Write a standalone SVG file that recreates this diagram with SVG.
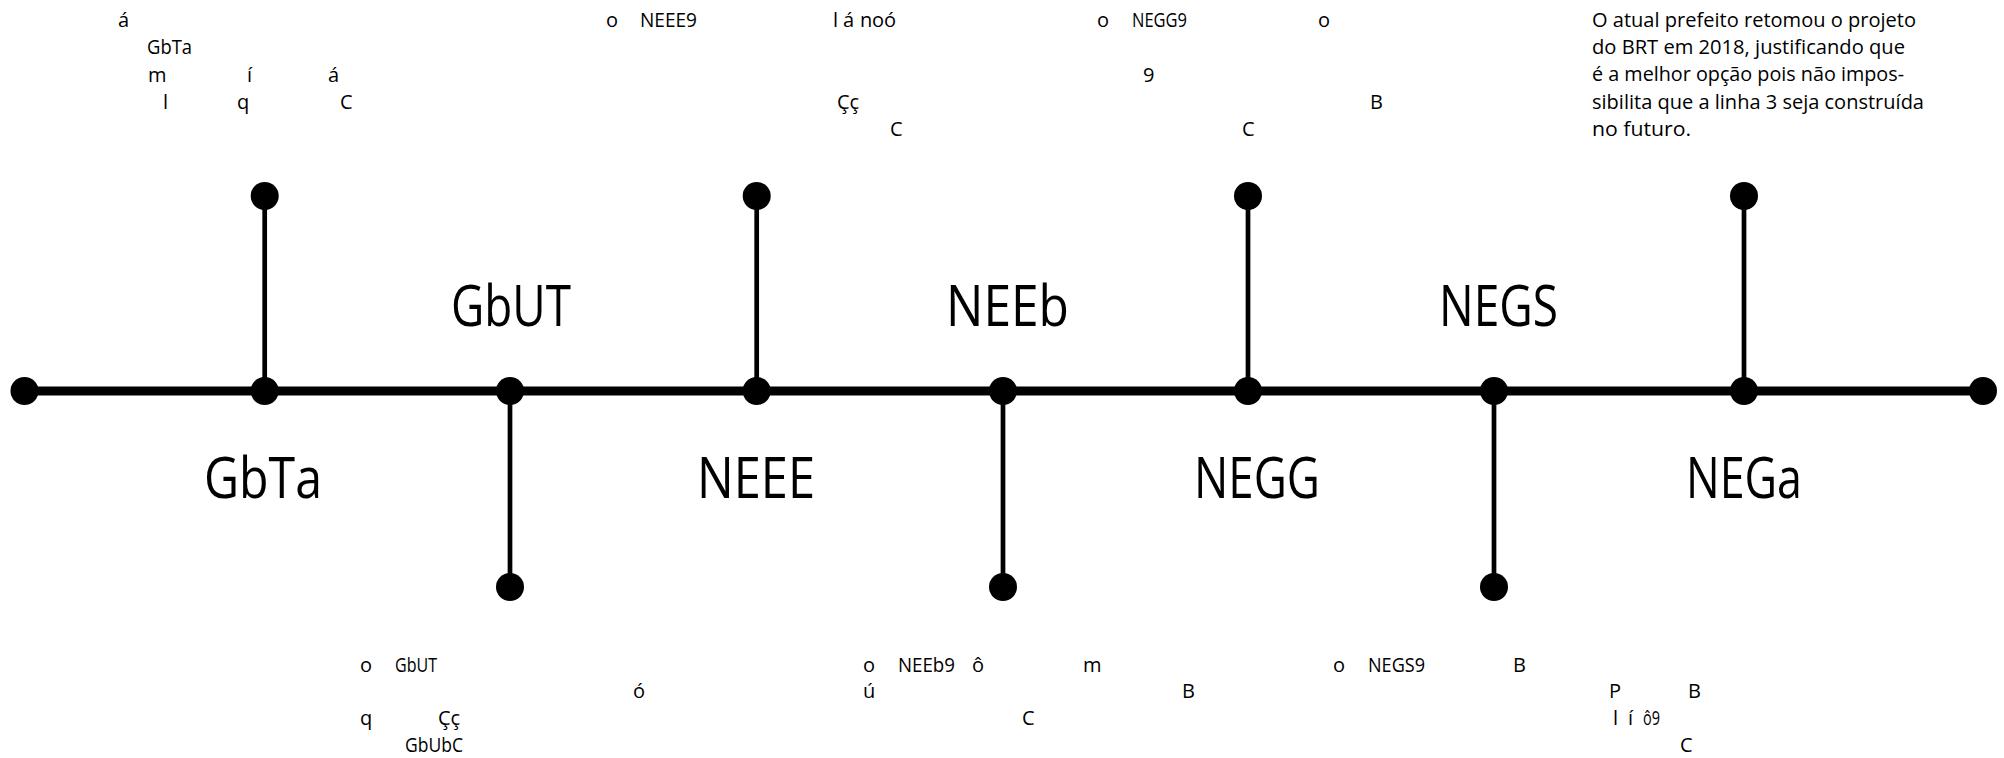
<svg xmlns="http://www.w3.org/2000/svg" width="2004" height="758" viewBox="0 0 2004 758">
<style>
.s{font-family:"Open Sans","Noto Sans",sans-serif;font-size:20px;fill:#000}
.b{font-family:"Open Sans","Noto Sans",sans-serif;font-size:57px;fill:#000}
.main{stroke:#000;stroke-width:9;fill:none}
.br{stroke:#000;stroke-width:4.7;fill:none}
.dot{fill:#000}
</style>
<rect width="2004" height="758" fill="#fff"/>
<g id="connectors">
<line class="main" x1="24.5" y1="391" x2="1983" y2="391"/>
<line class="br" x1="264.7" y1="391" x2="264.7" y2="196"/>
<line class="br" x1="510" y1="391" x2="510" y2="587"/>
<line class="br" x1="756.7" y1="391" x2="756.7" y2="196"/>
<line class="br" x1="1003" y1="391" x2="1003" y2="587"/>
<line class="br" x1="1248" y1="391" x2="1248" y2="196"/>
<line class="br" x1="1494" y1="391" x2="1494" y2="587"/>
<line class="br" x1="1744" y1="391" x2="1744" y2="196"/>
</g>
<g id="node-start"><circle class="dot" cx="24.5" cy="391" r="14"/></g>
<g id="node-1">
<circle class="dot" cx="264.7" cy="391" r="14"/>
<circle class="dot" cx="264.7" cy="196" r="14"/>
<text class="b" x="204" y="498" textLength="118" lengthAdjust="spacingAndGlyphs">GbTa</text>
<text class="s" x="118" y="27">á</text>
<text class="s" x="147" y="54" textLength="45" lengthAdjust="spacingAndGlyphs">GbTa</text>
<text class="s" x="148" y="82">m</text>
<text class="s" x="247" y="82">í</text>
<text class="s" x="328" y="82">á</text>
<text class="s" x="163" y="109">l</text>
<text class="s" x="237" y="109">q</text>
<text class="s" x="340" y="109">C</text>
</g>
<g id="node-2">
<circle class="dot" cx="510" cy="391" r="14"/>
<circle class="dot" cx="510" cy="587" r="14"/>
<text class="b" x="451" y="326" textLength="120" lengthAdjust="spacingAndGlyphs">GbUT</text>
<text class="s" x="360" y="672">o</text>
<text class="s" x="395" y="672" textLength="42" lengthAdjust="spacingAndGlyphs">GbUT</text>
<text class="s" x="633" y="698">ó</text>
<text class="s" x="360" y="725">q</text>
<text class="s" x="438" y="725">Çç</text>
<text class="s" x="405" y="752" textLength="58" lengthAdjust="spacingAndGlyphs">GbUbC</text>
</g>
<g id="node-3">
<circle class="dot" cx="756.7" cy="391" r="14"/>
<circle class="dot" cx="756.7" cy="196" r="14"/>
<text class="b" x="697" y="498" textLength="118" lengthAdjust="spacingAndGlyphs">NEEE</text>
<text class="s" x="606" y="27">o</text>
<text class="s" x="640" y="27" textLength="57" lengthAdjust="spacingAndGlyphs">NEEE9</text>
<text class="s" x="833" y="27">l</text>
<text class="s" x="843" y="27">á</text>
<text class="s" x="860" y="27">n</text>
<text class="s" x="872" y="27">o</text>
<text class="s" x="884" y="27">ó</text>
<text class="s" x="837" y="109">Çç</text>
<text class="s" x="890" y="136">C</text>
</g>
<g id="node-4">
<circle class="dot" cx="1003" cy="391" r="14"/>
<circle class="dot" cx="1003" cy="587" r="14"/>
<text class="b" x="946" y="326" textLength="123" lengthAdjust="spacingAndGlyphs">NEEb</text>
<text class="s" x="863" y="672">o</text>
<text class="s" x="898" y="672" textLength="57" lengthAdjust="spacingAndGlyphs">NEEb9</text>
<text class="s" x="972" y="672">ô</text>
<text class="s" x="1083" y="672">m</text>
<text class="s" x="863" y="698">ú</text>
<text class="s" x="1182" y="698">B</text>
<text class="s" x="1022" y="725">C</text>
</g>
<g id="node-5">
<circle class="dot" cx="1248" cy="391" r="14"/>
<circle class="dot" cx="1248" cy="196" r="14"/>
<text class="b" x="1194" y="498" textLength="126" lengthAdjust="spacingAndGlyphs">NEGG</text>
<text class="s" x="1097" y="27">o</text>
<text class="s" x="1132" y="27" textLength="55" lengthAdjust="spacingAndGlyphs">NEGG9</text>
<text class="s" x="1318" y="27">o</text>
<text class="s" x="1143" y="82">9</text>
<text class="s" x="1370" y="109">B</text>
<text class="s" x="1242" y="136">C</text>
</g>
<g id="node-6">
<circle class="dot" cx="1494" cy="391" r="14"/>
<circle class="dot" cx="1494" cy="587" r="14"/>
<text class="b" x="1439" y="326" textLength="119" lengthAdjust="spacingAndGlyphs">NEGS</text>
<text class="s" x="1333" y="672">o</text>
<text class="s" x="1368" y="672" textLength="57" lengthAdjust="spacingAndGlyphs">NEGS9</text>
<text class="s" x="1513" y="672">B</text>
<text class="s" x="1609" y="698">P</text>
<text class="s" x="1688" y="698">B</text>
<text class="s" x="1613" y="725">l</text>
<text class="s" x="1628" y="725">í</text>
<text class="s" x="1643" y="725" textLength="17" lengthAdjust="spacingAndGlyphs">ô9</text>
<text class="s" x="1680" y="752">C</text>
</g>
<g id="node-7">
<circle class="dot" cx="1744" cy="391" r="14"/>
<circle class="dot" cx="1744" cy="196" r="14"/>
<text class="b" x="1686" y="498" textLength="116" lengthAdjust="spacingAndGlyphs">NEGa</text>
<text class="s" x="1592" y="27" textLength="324" lengthAdjust="spacingAndGlyphs">O atual prefeito retomou o projeto</text>
<text class="s" x="1592" y="54.2" textLength="313" lengthAdjust="spacingAndGlyphs">do BRT em 2018, justificando que</text>
<text class="s" x="1592" y="81.4" textLength="312" lengthAdjust="spacingAndGlyphs">é a melhor opção pois não impos-</text>
<text class="s" x="1592" y="108.6" textLength="332" lengthAdjust="spacingAndGlyphs">sibilita que a linha 3 seja construída</text>
<text class="s" x="1592" y="135.8" textLength="99" lengthAdjust="spacingAndGlyphs">no futuro.</text>
</g>
<g id="node-end"><circle class="dot" cx="1983" cy="391" r="14"/></g>
</svg>
